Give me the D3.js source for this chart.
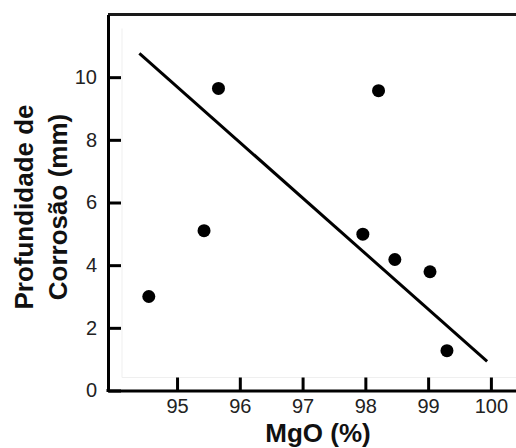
<!DOCTYPE html>
<html>
<head>
<meta charset="utf-8">
<script src="https://cdn.jsdelivr.net/npm/d3@7"></script>
<style>
  html, body { margin: 0; padding: 0; background: #fff; }
  svg { display: block; }
  text { font-family: "Liberation Sans", Arial, sans-serif; }
</style>
</head>
<body>
<script>
// Data
const mgo = [94.55, 95.43, 95.66, 98.21, 97.96, 98.47, 99.03, 99.30];
const depth = [3.0, 5.1, 9.64, 9.57, 4.99, 4.18, 3.79, 1.27];
const fitX = [94.40, 99.94];
const fitY = [10.76, 0.93];
const xTicks = [95, 96, 97, 98, 99, 100];
const yTicks = [0, 2, 4, 6, 8, 10];
const xTitle = "MgO (%)";
const yTitleLines = ["Profundidade de", "Corrosão (mm)"];

const W = 516, H = 448;
const mLeft = 108, mRight = 516, mTop = 14.5, mBottom = 390.5;

const svg = d3.select("body").append("svg").attr("width", W).attr("height", H);

const x = d3.scaleLinear().domain([93.9, 100.4]).range([mLeft, mRight]);
const y = d3.scaleLinear().domain([0, 12]).range([mBottom, mTop]);

// faint inner guide lines
svg.append("path")
  .attr("d", `M${mLeft + 14},${mTop + 14}V${mBottom - 13}H${mRight}`)
  .attr("fill", "none").attr("stroke", "#efefef").attr("stroke-width", 1);

// top frame line
svg.append("line")
  .attr("x1", mLeft).attr("x2", mRight).attr("y1", mTop).attr("y2", mTop)
  .attr("stroke", "#1a1a1a").attr("stroke-width", 3);

// x axis
const gx = svg.append("g").attr("transform", `translate(0,${mBottom})`)
  .call(d3.axisBottom(x).tickValues(xTicks).tickSizeInner(-13).tickSizeOuter(0).tickPadding(0).tickFormat(d3.format("d")));
gx.select(".domain").attr("stroke", "#000").attr("stroke-width", 3);
gx.selectAll(".tick line").attr("stroke", "#000").attr("stroke-width", 3);
gx.selectAll(".tick text").attr("font-size", 20).attr("fill", "#222")
  .attr("dy", null).attr("y", 22.5).style("font-family", "'Liberation Sans', Arial, sans-serif");

// y axis
const gy = svg.append("g").attr("transform", `translate(${mLeft},0)`)
  .call(d3.axisLeft(y).tickValues(yTicks).tickSizeInner(-13).tickSizeOuter(0).tickPadding(11).tickFormat(d3.format("d")));
gy.select(".domain").attr("stroke", "#000").attr("stroke-width", 3);
gy.selectAll(".tick line").attr("stroke", "#000").attr("stroke-width", 3);
gy.selectAll(".tick text").attr("font-size", 20).attr("fill", "#222")
  .style("font-family", "'Liberation Sans', Arial, sans-serif");

// square the corner
svg.append("rect").attr("x", mLeft - 1.5).attr("y", mBottom - 1.5).attr("width", 3).attr("height", 3).attr("fill", "#000");

// regression line
svg.append("line")
  .attr("x1", x(fitX[0])).attr("y1", y(fitY[0]))
  .attr("x2", x(fitX[1])).attr("y2", y(fitY[1]))
  .attr("stroke", "#000").attr("stroke-width", 3);

// points
svg.append("g").selectAll("circle").data(mgo).join("circle")
  .attr("cx", d => x(d)).attr("cy", (d, i) => y(depth[i]))
  .attr("r", 6.5).attr("fill", "#000");

// x title
svg.append("text")
  .attr("x", 318).attr("y", 442)
  .attr("text-anchor", "middle").attr("font-size", 26).attr("font-weight", "bold").attr("fill", "#111")
  .text(xTitle);

// y title
const yt = svg.append("text")
  .attr("transform", "translate(33,207) rotate(-90)")
  .attr("text-anchor", "middle").attr("font-size", 26).attr("font-weight", "bold").attr("fill", "#111");
yt.selectAll("tspan").data(yTitleLines).join("tspan")
  .attr("x", 0).attr("y", (d, i) => i * 34)
  .text(d => d);
</script>
</body>
</html>
